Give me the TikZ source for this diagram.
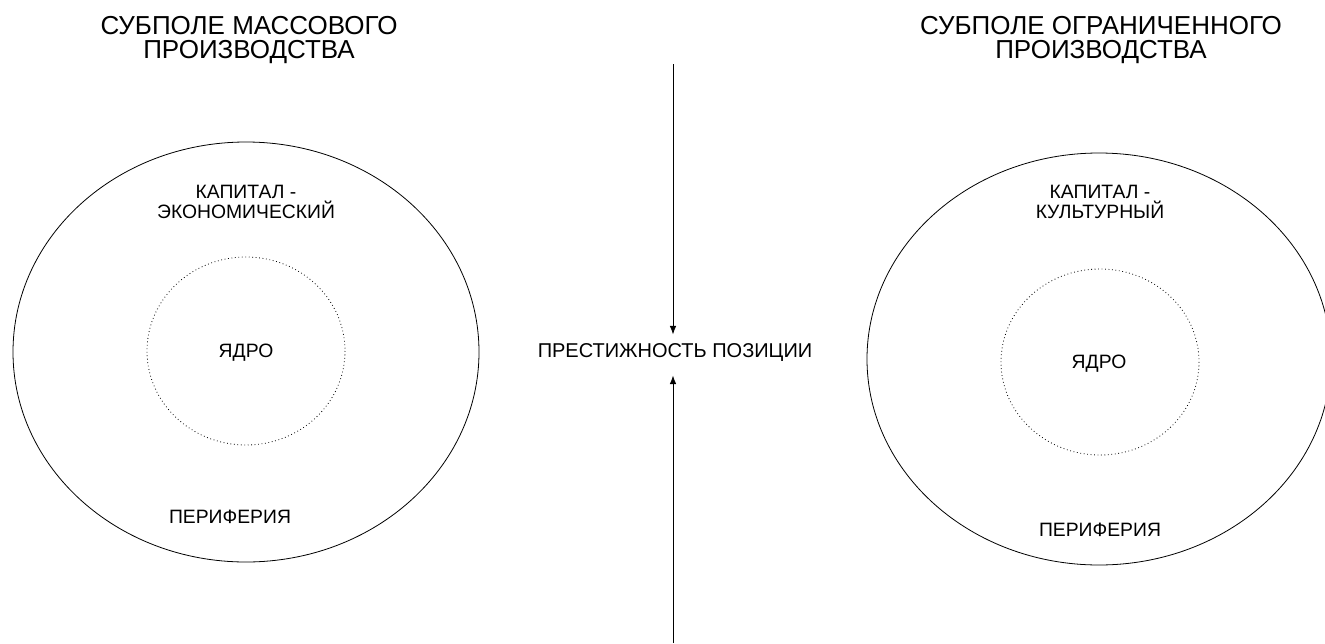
\documentclass[tikz,border=0pt]{standalone}
\usepackage{fontspec}
\setmainfont{Liberation Sans}
\usetikzlibrary{arrows.meta}

\begin{document}
\begin{tikzpicture}[x=0.75pt,y=-0.75pt,
    title/.style={align=center,font=\fontsize{19.5}{18}\selectfont},
    label/.style={align=center,font=\fontsize{14.5}{15}\selectfont},
    core/.style={draw,dotted,semithick},
    field/.style={draw,semithick}]
  \useasboundingbox (0,0) rectangle (1325,643);
  % left subfield
  \draw[field] (246,352) ellipse (233 and 210);
  \draw[core] (246,351) ellipse (99 and 94);
  \node[title] (massT) at (249,40) {СУБПОЛЕ МАССОВОГО\\ПРОИЗВОДСТВА};
  \node[label] (massK) at (246,202) {КАПИТАЛ -\\ЭКОНОМИЧЕСКИЙ};
  \node[label] (massC) at (246,353) {ЯДРО};
  \node[label] (massP) at (230,517) {ПЕРИФЕРИЯ};
  % right subfield
  \draw[field] (1099,359) ellipse (232 and 206);
  \draw[core] (1100,362) ellipse (99 and 93);
  \node[title] (restT) at (1101,40) {СУБПОЛЕ ОГРАНИЧЕННОГО\\ПРОИЗВОДСТВА};
  \node[label] (restK) at (1100,202) {КАПИТАЛ -\\КУЛЬТУРНЫЙ};
  \node[label] (restC) at (1099,364) {ЯДРО};
  \node[label] (restP) at (1100,530) {ПЕРИФЕРИЯ};
  % prestige axis
  \node[font=\fontsize{15}{16}\selectfont,inner sep=0pt] (prestige) at (675,353) {ПРЕСТИЖНОСТЬ ПОЗИЦИИ};
  \coordinate (up) at (673,64);
  \coordinate (down) at (673,643);
  \draw[-{Latex[length=6.5pt,width=5pt]},semithick,shorten >=7pt] (up) -- (up |- prestige.north);
  \draw[-{Latex[length=6.5pt,width=5pt]},semithick,shorten >=10pt] (down) -- (down |- prestige.south);
\end{tikzpicture}
\end{document}
